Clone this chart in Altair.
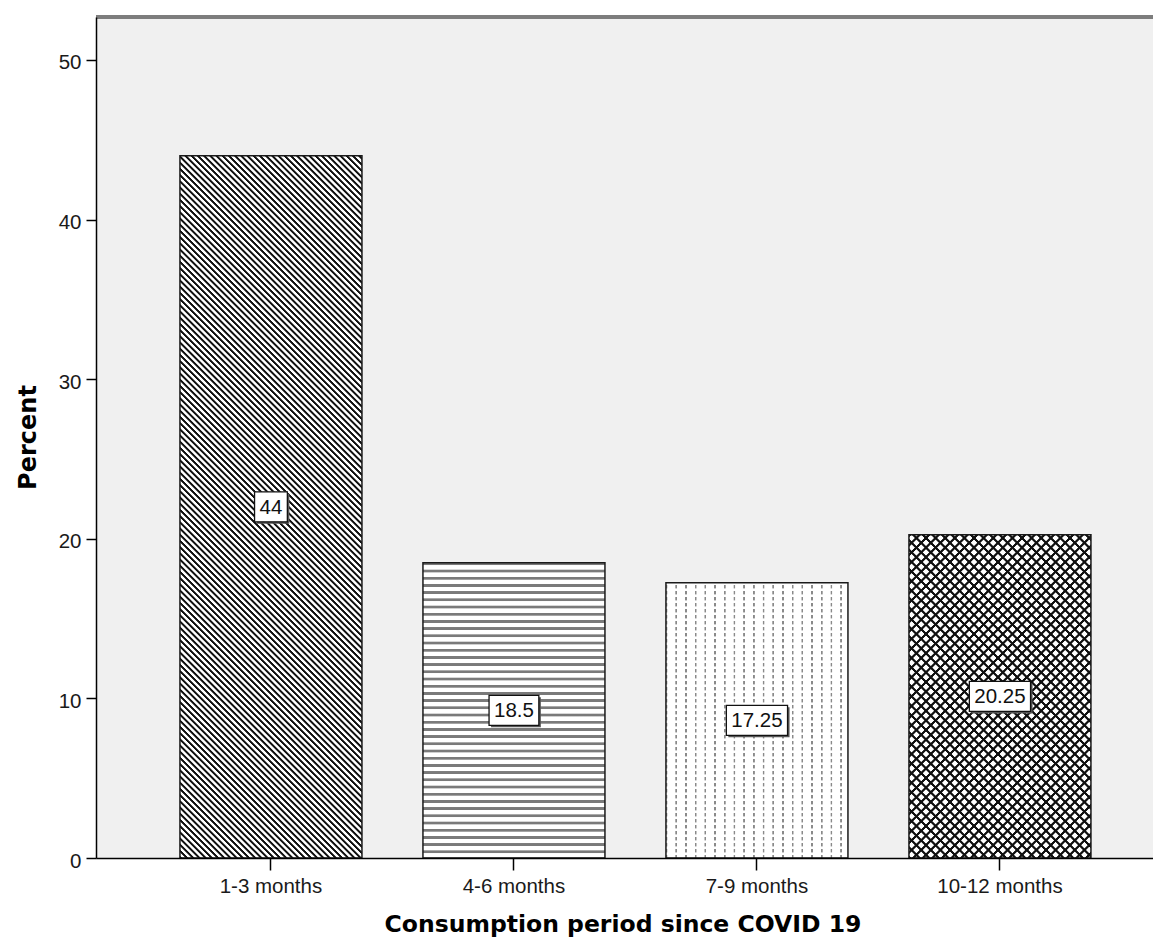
import math
import altair as alt
import pandas as pd

# ---------------- data ----------------
categories = ["1-3 months", "4-6 months", "7-9 months", "10-12 months"]
percents = [44, 18.5, 17.25, 20.25]
value_labels = ["44", "18.5", "17.25", "20.25"]
y_ticks = [0, 10, 20, 30, 40, 50]

# ---------------- layout constants ----------------
W, H = 1057, 841
Y_MAX = 52.69
P_INNER, P_OUTER, ALIGN = 0.251, 0.3004, 0.575
STEP = W / (len(categories) - P_INNER + 2 * P_OUTER)
BAR_W = STEP * (1 - P_INNER)

df = pd.DataFrame({"category": categories, "percent": percents, "label": value_labels})

BLACK = "#111111"
WHITE = "#ffffff"
CLEAR_B = "rgba(0,0,0,0)"
CLEAR_W = "rgba(255,255,255,0)"


def stripe_stops(length, period, profile):
    out = []
    k = 0
    while True:
        base = k * period
        for pos, col in profile:
            o = (base + pos) / length
            if o >= 1:
                out.append({"offset": 1.0, "color": col})
                return out
            out.append({"offset": round(o, 5), "color": col})
        k += 1


def grad_back(w, h, hperiod, profile):
    # "\" stripes, 45 degrees in pixel space
    k = (w + h) / (w * w + h * h)
    L = (w + h) / math.sqrt(2)
    return {"gradient": "linear", "x1": 0, "y1": 1, "x2": k * w, "y2": 1 - k * h,
            "stops": stripe_stops(L, hperiod / math.sqrt(2), profile)}


def grad_fwd(w, h, hperiod, profile):
    # "/" stripes, 45 degrees in pixel space
    k = (w + h) / (w * w + h * h)
    L = (w + h) / math.sqrt(2)
    return {"gradient": "linear", "x1": 0, "y1": 0, "x2": k * w, "y2": k * h,
            "stops": stripe_stops(L, hperiod / math.sqrt(2), profile)}


def grad_horiz(h, period, profile):
    return {"gradient": "linear", "x1": 0, "y1": 0, "x2": 0, "y2": 1,
            "stops": stripe_stops(h, period, profile)}


def grad_vert(w, period, profile):
    return {"gradient": "linear", "x1": 0, "y1": 0, "x2": 1, "y2": 0,
            "stops": stripe_stops(w, period, profile)}


x_axis = alt.Axis(
    title="Consumption period since COVID 19", labelAngle=0,
    labelFont="Liberation Sans", labelFontSize=20.5, labelColor="#1a1a1a",
    labelPadding=6, tickSize=12, tickWidth=1.5, tickColor="#000000",
    domainColor="#000000", domainWidth=1.5, grid=False,
    titleFont="DejaVu Sans", titleFontWeight="bold", titleFontSize=23.5,
    titleColor="#000000", titleX=526.5, titleY=73, titleBaseline="alphabetic",
    titleAlign="center", zindex=1,
)
y_axis = alt.Axis(
    title="Percent", values=y_ticks, format="d",
    labelFont="Liberation Sans", labelFontSize=20.5, labelColor="#1a1a1a",
    labelPadding=5, labelOffset=3, tickSize=10, tickWidth=1.5, tickColor="#000000",
    domainColor="#000000", domainWidth=1.5, grid=False,
    titleFont="DejaVu Sans", titleFontWeight="bold", titleFontSize=24,
    titleColor="#000000", titleX=-60.5, titleY=420, titleAngle=270,
    titleBaseline="alphabetic", titleAlign="center", zindex=1,
)

x_scale = alt.Scale(domain=categories, paddingInner=P_INNER, paddingOuter=P_OUTER, align=ALIGN)
y_scale = alt.Scale(domain=[0, Y_MAX], nice=False, zero=True)

x_enc = alt.X("category:N", scale=x_scale, axis=x_axis)
y_enc = alt.Y("percent:Q", scale=y_scale, axis=y_axis)

OUTLINE = dict(stroke="#1a1a1a", strokeWidth=1.5)

layers = []

# top border of the plot frame
layers.append(
    alt.Chart(df).transform_filter(alt.datum.category == categories[0])
    .mark_rule(color="#7d7d7d", strokeWidth=4)
    .encode(x=alt.value(0), x2=alt.value(W), y=alt.value(0))
)

for cat, val in zip(categories, percents):
    h = val * H / Y_MAX
    base = alt.Chart(df).transform_filter(alt.datum.category == cat).encode(x=x_enc, y=y_enc)
    if cat == categories[0]:
        g = grad_back(BAR_W, h, 6.2, [(0, BLACK), (1.3, BLACK), (2.0, WHITE), (3.7, WHITE)])
        layers.append(base.mark_bar(fill=g, **OUTLINE))
    elif cat == categories[1]:
        g = grad_horiz(h, 7.2, [(0, "#7a7a7a"), (2.2, "#7a7a7a"), (2.8, WHITE), (6.6, WHITE)])
        layers.append(base.mark_bar(fill=g, **OUTLINE))
    elif cat == categories[2]:
        g = grad_vert(BAR_W, 9.7, [(0, "#8a8a8a"), (1.2, "#8a8a8a"), (1.7, WHITE), (9.2, WHITE)])
        mask = grad_horiz(h, 6.0, [(0, WHITE), (2.2, WHITE), (2.6, CLEAR_W), (5.6, CLEAR_W)])
        layers.append(base.mark_bar(fill=g))
        layers.append(base.mark_bar(fill=mask, **OUTLINE))
    else:
        prof = [(0, BLACK), (1.5, BLACK), (2.2, CLEAR_B), (6.1, CLEAR_B)]
        layers.append(base.mark_bar(fill=WHITE))
        layers.append(base.mark_bar(fill=grad_back(BAR_W, h, 9.6, prof)))
        layers.append(base.mark_bar(fill=grad_fwd(BAR_W, h, 9.6, prof), **OUTLINE))


def text_width(s, fs=20.5):
    return sum((0.278 if ch == "." else 0.556) * fs for ch in s)


BOX_H = 30
for cat, lab in zip(categories, value_labels):
    bw = text_width(lab) + 10
    hw, hh = bw / 2, BOX_H / 2
    box_path = f"M{-hw:.1f},{-hh:.1f}H{hw:.1f}V{hh:.1f}H{-hw:.1f}Z"
    shadow_path = f"M{-hw + 2:.1f},{-hh + 2:.1f}H{hw + 2:.1f}V{hh + 2:.1f}H{-hw + 2:.1f}Z"
    lb = (
        alt.Chart(df).transform_filter(alt.datum.category == cat)
        .transform_calculate(mid="datum.percent / 2")
        .encode(x=x_enc, y=alt.Y("mid:Q", scale=y_scale, axis=y_axis))
    )
    layers.append(lb.mark_point(shape=shadow_path, size=4, filled=True, fill="#555555",
                                strokeWidth=0, opacity=1))
    layers.append(lb.mark_point(shape=box_path, size=4, filled=True, fill="#ffffff",
                                stroke="#111111", strokeWidth=1.3, opacity=1))
    layers.append(lb.mark_text(font="Liberation Sans", fontSize=20.5, color="#111111",
                               align="center", baseline="middle", dy=1)
                  .encode(text="label:N"))

chart = (
    alt.layer(*layers)
    .properties(
        width=W, height=H,
        padding={"left": 88, "top": 9, "right": 0, "bottom": 79},
        autosize=alt.AutoSizeParams(type="none"),
        background="#ffffff",
    )
    .configure_view(fill="#f0f0f0", stroke="transparent")
)

chart.save("out.html", embed_options={"renderer": "svg", "actions": False})
